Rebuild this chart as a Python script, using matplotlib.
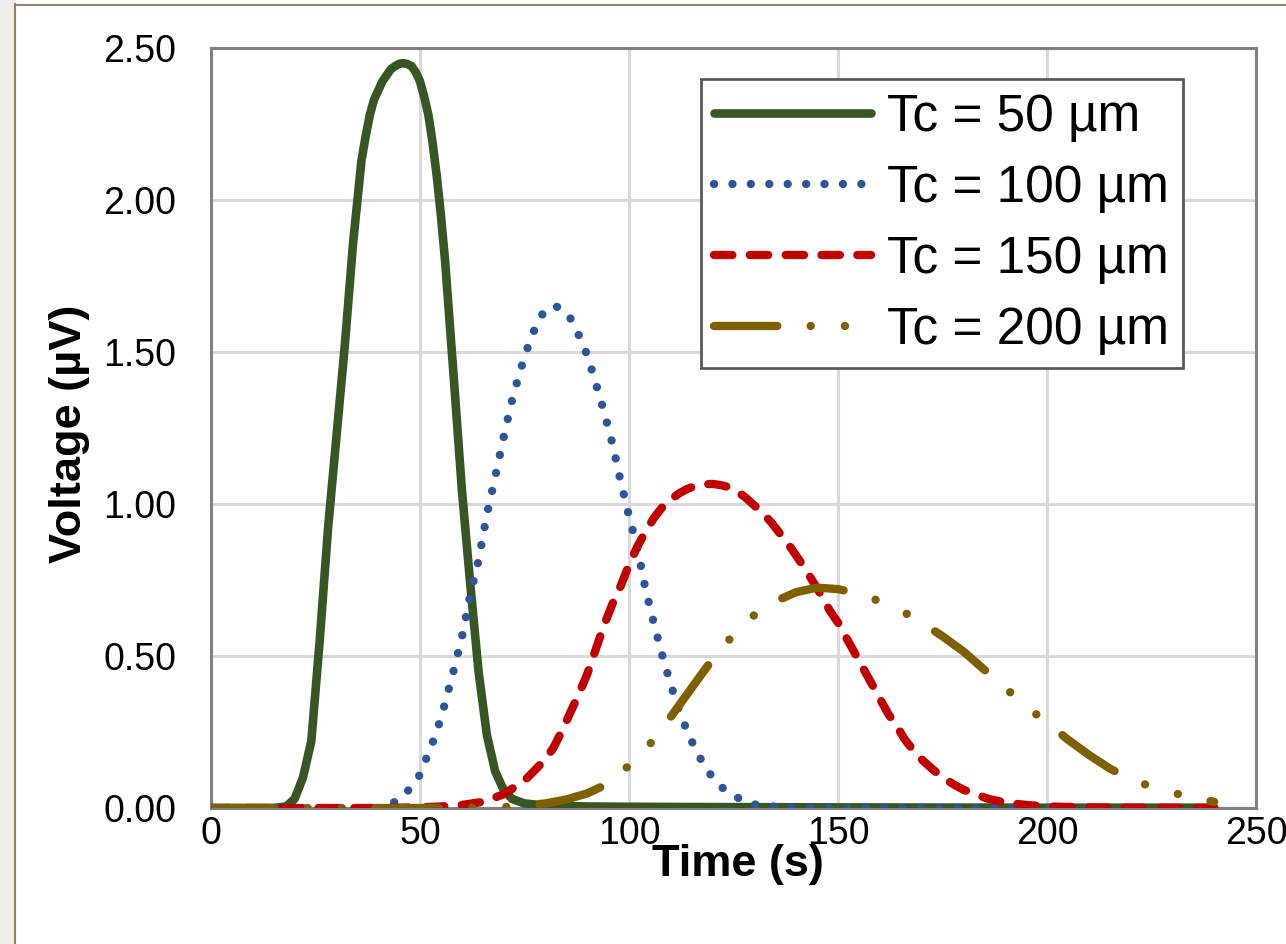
import matplotlib
matplotlib.use("Agg")
import matplotlib.pyplot as plt
from matplotlib.patches import Rectangle
from matplotlib.lines import Line2D

plt.rcParams['font.family'] = ['Liberation Sans', 'DejaVu Sans']

# values
t_50 = [0, 15, 18, 20, 22, 24, 26, 28, 30, 32, 34, 36, 37, 38, 39, 40, 41,
        42, 43, 44, 45, 46, 47, 48, 49, 50, 51, 52, 53, 54, 55, 56, 58, 60,
        62, 64, 66, 68, 70, 72, 75, 80, 90, 100, 120, 150, 200, 240]
v_50 = [0, 0, 0.005, 0.03, 0.10, 0.22, 0.55, 0.92, 1.22, 1.52, 1.86, 2.13,
        2.21, 2.28, 2.33, 2.36, 2.39, 2.41, 2.43, 2.44, 2.448, 2.45, 2.447,
        2.44, 2.42, 2.39, 2.34, 2.28, 2.19, 2.08, 1.95, 1.80, 1.43, 1.05,
        0.74, 0.45, 0.24, 0.12, 0.06, 0.03, 0.015, 0.008, 0.005, 0.004, 0.003,
        0.002, 0.001, 0.001]

t_100 = [0, 40, 42, 44, 46, 48, 50, 52, 54, 56, 58, 60, 62, 64, 66, 68, 70,
         72, 74, 76, 78, 80, 82, 84, 86, 88, 90, 92, 94, 96, 98, 100, 102, 104,
         106, 108, 110, 112, 114, 116, 118, 120, 122, 124, 126, 128, 130, 133,
         140, 150, 240]
v_100 = [0, 0, 0.008, 0.02, 0.04, 0.07, 0.11, 0.18, 0.25, 0.345, 0.45, 0.56,
         0.70, 0.815, 0.965, 1.09, 1.22, 1.34, 1.44, 1.525, 1.595, 1.64, 1.652,
         1.643, 1.61, 1.555, 1.49, 1.40, 1.305, 1.20, 1.075, 0.96, 0.855,
         0.717, 0.605, 0.50, 0.405, 0.32, 0.25, 0.19, 0.14, 0.10, 0.07, 0.05,
         0.034, 0.02, 0.012, 0.006, 0.001, 0, 0]

t_150 = [0, 40, 50, 55, 60, 65, 70, 75, 80, 82, 84, 86, 88, 90, 92, 94, 96,
         98, 100, 102, 104, 106, 108, 110, 112, 114, 116, 118, 120, 122, 124,
         126, 128, 130, 132, 134, 136, 138, 140, 142, 144, 146, 148, 150, 152,
         154, 156, 158, 160, 162, 164, 166, 168, 170, 172, 175, 178, 180, 183,
         186, 190, 195, 200, 210, 220, 240]
v_150 = [0, 0, 0.002, 0.005, 0.01, 0.02, 0.045, 0.09, 0.16, 0.20, 0.255,
         0.315, 0.375, 0.44, 0.52, 0.60, 0.67, 0.73, 0.80, 0.86, 0.91, 0.955,
         0.99, 1.015, 1.035, 1.05, 1.06, 1.065, 1.066, 1.062, 1.055, 1.04,
         1.02, 0.995, 0.97, 0.94, 0.905, 0.87, 0.83, 0.79, 0.745, 0.70, 0.65,
         0.61, 0.56, 0.51, 0.46, 0.41, 0.36, 0.31, 0.27, 0.225, 0.19, 0.16,
         0.135, 0.10, 0.075, 0.06, 0.045, 0.03, 0.018, 0.01, 0.005, 0.002,
         0.001, 0]

t_200 = [0, 60, 70, 75, 80, 85, 90, 95, 100, 105, 110, 115, 120, 125, 130,
         135, 140, 145, 150, 155, 160, 165, 170, 175, 180, 185, 190, 195, 200,
         205, 210, 215, 220, 225, 230, 235, 240]
v_200 = [0, 0, 0.003, 0.008, 0.015, 0.028, 0.048, 0.08, 0.14, 0.21, 0.30,
         0.395, 0.49, 0.57, 0.635, 0.68, 0.71, 0.725, 0.72, 0.705, 0.68, 0.65,
         0.61, 0.565, 0.515, 0.455, 0.395, 0.335, 0.28, 0.225, 0.175, 0.13,
         0.095, 0.07, 0.05, 0.035, 0.02]

labels = ['Tc = 50 µm', 'Tc = 100 µm', 'Tc = 150 µm', 'Tc = 200 µm']
x_ticks = [0, 50, 100, 150, 200, 250]
y_ticks = [0.0, 0.5, 1.0, 1.5, 2.0, 2.5]

fig = plt.figure(figsize=(12.86, 9.44), dpi=100)
ax = fig.add_axes([211 / 1286, 136 / 944, 1045 / 1286, 760 / 944])

ax.plot(t_50, v_50, color='#375623', lw=6.2, solid_capstyle='round',
        solid_joinstyle='round', label=labels[0], zorder=3)
ax.plot(t_100, v_100, color='#2F5597', lw=6.0, dash_capstyle='round',
        linestyle=(0, (0.01, 2.2)), label=labels[1], zorder=4)
ax.plot(t_150, v_150, color='#C00000', lw=6.0, dash_capstyle='round',
        linestyle=(0, (2.2, 2.1)), label=labels[2], zorder=5)
ax.plot(t_200, v_200, color='#7F6000', lw=6.0, dash_capstyle='round',
        linestyle=(0, (7.6, 4.0, 0.01, 4.1, 0.01, 4.0)), label=labels[3],
        zorder=6)

ax.set_xlim(0, 250)
ax.set_ylim(0, 2.5)
ax.set_xticks(x_ticks)
ax.set_yticks(y_ticks)
ax.set_yticklabels(['%.2f' % v for v in y_ticks])
ax.tick_params(length=0, labelsize=27)
ax.tick_params(axis='y', pad=25)
ax.tick_params(axis='x', pad=6)
ax.grid(True, color='#D9D9D9', lw=2.2, zorder=0)
ax.set_axisbelow(True)
for s in ax.spines.values():
    s.set_color('#7F7F7F')
    s.set_linewidth(2.2)
    s.set_zorder(2)

ax.set_xlabel('Time (s)', fontsize=32.5, fontweight='bold')
ax.xaxis.set_label_coords(0.504, -0.074)
ax.xaxis.label.set_va('center')
ax.set_ylabel('Voltage (µV)', fontsize=32.5, fontweight='bold')
ax.yaxis.set_label_coords(-0.135, 0.493)
ax.yaxis.label.set_va('center')

leg = ax.legend(loc='upper right', bbox_to_anchor=(0.930, 0.959),
                fontsize=37, handlelength=3.05, handletextpad=0.32,
                borderpad=0.26, labelspacing=0.43, borderaxespad=0,
                fancybox=False, framealpha=1, edgecolor='#595959')
leg.get_frame().set_linewidth(2.0)
leg.set_zorder(10)

# outer frame of the original picture
fig.patches.append(Rectangle((0, 0), 15 / 1286, 1, transform=fig.transFigure,
                             color='#EFEDE7', zorder=0))
fig.lines.append(Line2D([15.5 / 1286, 15.5 / 1286], [0, 1 - 4 / 944],
                        transform=fig.transFigure, color='#8C826F', lw=1.5))
fig.lines.append(Line2D([15 / 1286, 1], [1 - 4.5 / 944, 1 - 4.5 / 944],
                        transform=fig.transFigure, color='#8C826F', lw=1.5))

fig.savefig('out.png', dpi=100)
